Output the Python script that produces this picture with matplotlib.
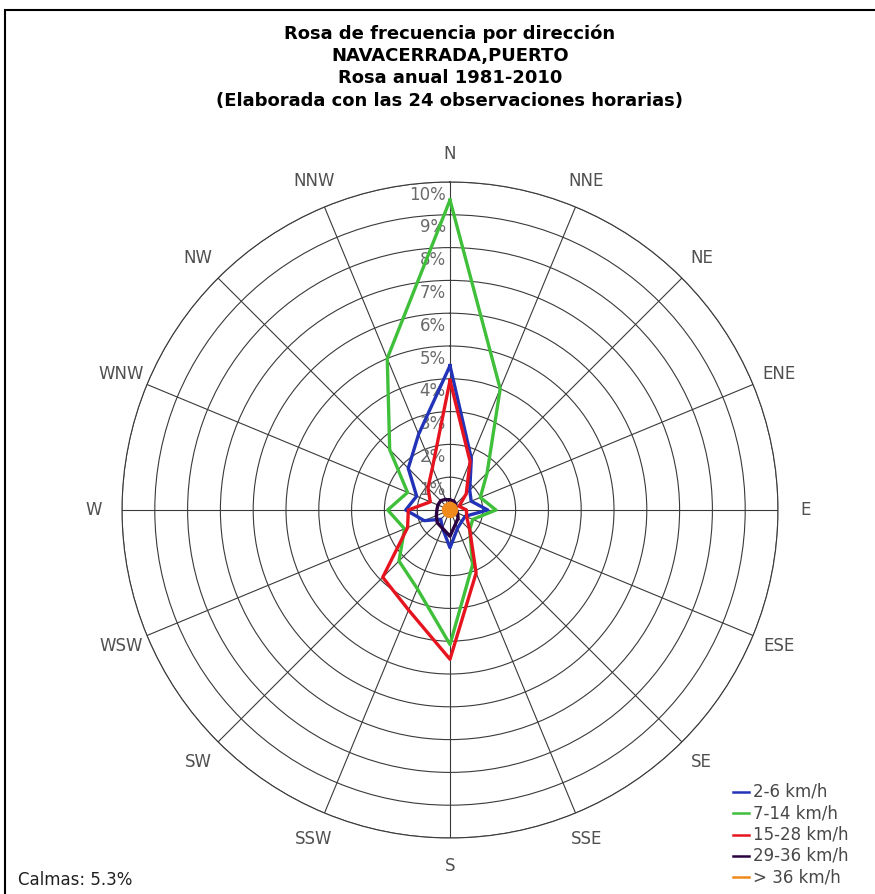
import numpy as np
import matplotlib.pyplot as plt
from matplotlib.patches import Rectangle

directions = ['N', 'NNE', 'NE', 'ENE', 'E', 'ESE', 'SE', 'SSE',
              'S', 'SSW', 'SW', 'WSW', 'W', 'WNW', 'NW', 'NNW']

# frecuencia (%) por direccion y clase de velocidad
v_2_6 = [4.4, 1.7, 0.85, 0.7, 1.15, 0.5, 0.5, 0.6,
         1.15, 0.6, 0.4, 0.85, 1.35, 1.1, 1.8, 2.5]
v_7_14 = [9.45, 4.0, 1.6, 1.0, 1.4, 0.75, 0.85, 1.8,
          4.1, 2.6, 2.2, 1.5, 1.9, 1.4, 2.6, 5.0]
v_15_28 = [3.95, 1.6, 0.7, 0.3, 0.5, 0.55, 0.85, 2.08,
           4.55, 3.3, 2.9, 1.4, 1.27, 0.65, 0.95, 1.4]
v_29_36 = [0.3, 0.3, 0.25, 0.2, 0.2, 0.25, 0.35, 0.45,
           0.8, 0.6, 0.55, 0.45, 0.4, 0.4, 0.4, 0.35]
v_36 = [0.2, 0.2, 0.2, 0.2, 0.2, 0.2, 0.2, 0.2,
        0.2, 0.2, 0.2, 0.2, 0.2, 0.2, 0.2, 0.2]

series = [
    ('2-6 km/h', v_2_6, '#2233b8'),
    ('7-14 km/h', v_7_14, '#3fbf3a'),
    ('15-28 km/h', v_15_28, '#e5141e'),
    ('29-36 km/h', v_29_36, '#2a0040'),
    ('> 36 km/h', v_36, '#f08a1c'),
]
calmas = 5.3
rings = np.arange(1, 11)

W, H = 875, 894
fig = plt.figure(figsize=(W / 100, H / 100), dpi=100)
fig.patch.set_facecolor('white')

# marco (solo se ven los bordes superior e izquierdo)
fig.add_artist(Rectangle((5 / W, -0.05), 1.1, 1.05 - 10 / H,
                         transform=fig.transFigure, fill=False,
                         edgecolor='black', linewidth=1.5))

cx, cy, R = 450, 510, 328
ax = fig.add_axes([(cx - R) / W, (H - cy - R) / H, 2 * R / W, 2 * R / H],
                  projection='polar')
ax.set_theta_zero_location('N')
ax.set_theta_direction(-1)
ax.set_ylim(0, 10)
ax.set_facecolor('white')

theta = np.deg2rad(np.arange(16) * 22.5)
ax.set_thetagrids(np.arange(16) * 22.5, [''] * 16)
ax.set_rgrids(rings, [''] * len(rings))
ax.grid(True, color='#3a3a3a', linewidth=0.8)
ax.spines['polar'].set_color('#3a3a3a')
ax.spines['polar'].set_linewidth(0.8)
ax.tick_params(length=0)

for name, vals, col in series:
    t = np.append(theta, theta[0])
    r = np.append(vals, vals[0])
    if name == '> 36 km/h':
        ax.fill(t, r, color=col, zorder=5)
    ax.plot(t, r, color=col, linewidth=2.4, zorder=4)

# etiquetas de direccion
for th, d in zip(theta, directions):
    ax.text(th, 10.85, d, ha='center', va='center', fontsize=12,
            color='#505050', clip_on=False)

# etiquetas de porcentaje
for rv in rings:
    ax.annotate('%d%%' % rv, xy=(0, rv), xytext=(-3, -9),
                textcoords='offset points', ha='right', va='center',
                fontsize=12, color='#6a6a6a', zorder=3)

title = ('Rosa de frecuencia por dirección\nNAVACERRADA,PUERTO\n'
         'Rosa anual 1981-2010\n(Elaborada con las 24 observaciones horarias)')
fig.text(450 / W, 1 - 67 / H, title, ha='center', va='center',
         fontsize=13, fontweight='bold', linespacing=1.3)

# leyenda
for i, (name, vals, col) in enumerate(series):
    y = 1 - (792 + i * 21.3) / H
    fig.add_artist(plt.Line2D([733 / W, 749 / W], [y, y], color=col,
                              linewidth=1.8, transform=fig.transFigure))
    fig.text(753 / W, y, name, ha='left', va='center', fontsize=12,
             color='#484848')

fig.text(18 / W, 1 - 880 / H, 'Calmas: %.1f%%' % calmas, ha='left',
         va='center', fontsize=12, color='#202020')

fig.savefig('out.png', dpi=100)
